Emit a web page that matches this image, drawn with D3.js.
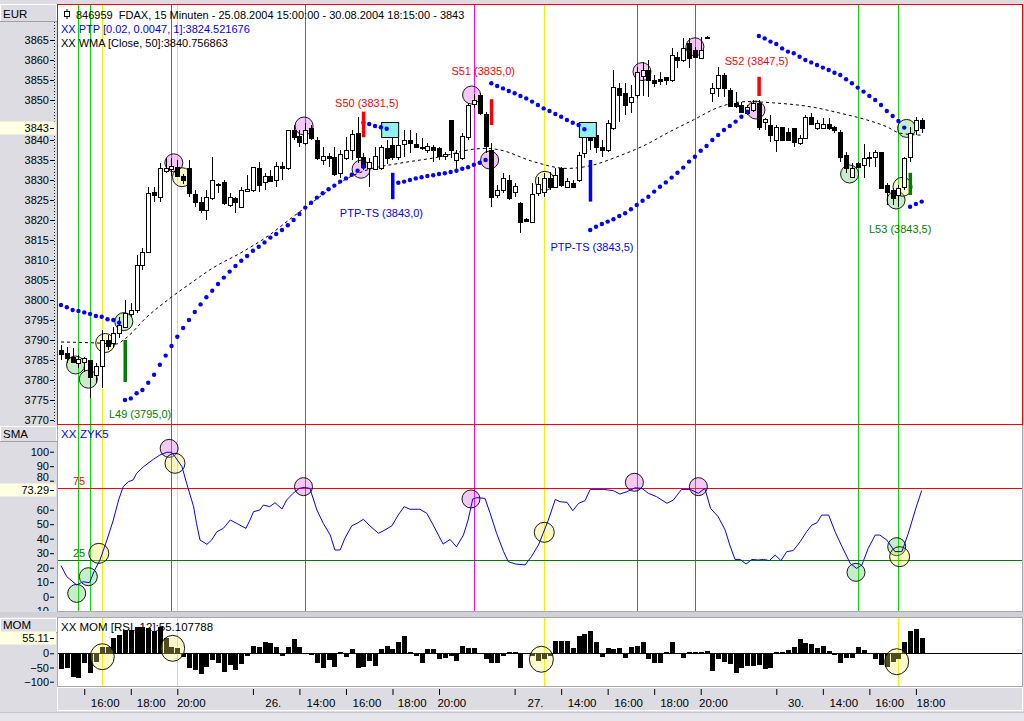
<!DOCTYPE html>
<html><head><meta charset="utf-8">
<script src="https://cdn.jsdelivr.net/npm/d3@7"></script>
<style>
body{margin:0;background:#dcdce2;}
svg{display:block;font-family:"Liberation Sans",Arial,sans-serif;}
text{white-space:pre;}
</style></head><body>
<svg id="c" width="1024" height="721"></svg>
<script>
// ---------------- DATA ----------------
const candleOpen=[3787.5,3786.7,3785.7,3784.3,3784.6,3785.0,3781.3,3783.5,3790.0,3789.2,3791.7,3793.3,3796.5,3797.5,3808.8,3812.1,3827.1,3825.8,3832.3,3832.7,3833.3,3831.0,3832.9,3826.5,3824.6,3822.5,3825.4,3829.0,3829.6,3823.8,3825.6,3823.3,3827.3,3827.5,3833.0,3829.6,3831.0,3830.0,3833.5,3832.9,3842.5,3841.0,3839.2,3842.9,3840.0,3835.0,3836.0,3835.8,3831.7,3835.4,3837.5,3841.7,3835.8,3832.9,3832.7,3833.0,3837.9,3838.8,3835.8,3839.0,3840.0,3839.0,3838.3,3837.5,3838.3,3838.0,3836.0,3845.0,3835.0,3835.4,3840.8,3849.0,3851.3,3846.5,3837.5,3826.3,3827.5,3830.0,3827.0,3824.2,3820.2,3819.6,3826.7,3827.0,3830.4,3828.3,3832.9,3828.3,3829.3,3830.0,3836.7,3842.0,3841.3,3838.3,3837.5,3842.9,3853.0,3851.7,3849.4,3851.3,3856.0,3857.5,3855.0,3855.2,3855.8,3855.0,3860.8,3860.0,3864.2,3862.5,3860.4,3865.8,3851.8,3852.9,3856.3,3852.5,3849.2,3848.8,3846.8,3847.5,3849.2,3844.6,3843.8,3840.0,3843.2,3842.1,3842.9,3839.2,3840.4,3845.8,3842.9,3842.9,3844.0,3843.2,3842.1,3836.3,3830.8,3834.2,3833.8,3835.5,3835.8,3837.1,3828.8,3827.5,3826.3,3828.3,3835.8,3842.5,3845.0];
const candleHigh=[3788.8,3788.3,3787.9,3786.3,3785.7,3785.0,3784.2,3792.5,3791.3,3793.3,3795.8,3800.0,3799.2,3811.3,3812.9,3828.3,3828.3,3834.2,3835.4,3835.5,3835.0,3831.5,3835.0,3827.5,3825.8,3827.5,3835.8,3829.2,3830.0,3826.7,3825.8,3828.3,3831.3,3833.3,3834.5,3831.7,3832.5,3834.6,3834.6,3842.5,3843.8,3842.5,3844.2,3843.8,3840.8,3838.3,3836.7,3838.3,3837.5,3840.8,3842.5,3845.8,3836.7,3835.4,3838.3,3838.8,3840.0,3842.0,3842.0,3842.5,3842.5,3841.7,3840.4,3839.2,3838.8,3838.3,3837.0,3845.0,3837.5,3841.7,3849.2,3851.5,3851.7,3847.0,3839.2,3828.8,3831.7,3831.3,3829.2,3824.6,3820.5,3829.2,3830.8,3831.7,3832.0,3833.0,3833.3,3830.4,3830.0,3837.0,3842.5,3844.0,3842.0,3840.0,3845.0,3857.5,3854.2,3854.2,3853.8,3858.3,3859.5,3860.0,3856.3,3857.0,3855.8,3862.9,3862.0,3865.4,3865.4,3863.3,3865.8,3866.0,3854.2,3858.3,3856.7,3852.9,3852.0,3849.6,3848.8,3850.0,3850.0,3845.5,3846.3,3843.8,3843.3,3842.9,3842.9,3841.3,3846.3,3846.8,3845.0,3845.4,3845.4,3843.5,3842.5,3837.1,3834.2,3834.6,3839.0,3837.1,3837.5,3837.1,3829.2,3827.9,3828.8,3835.8,3843.3,3845.8,3845.4];
const candleLow=[3785.0,3784.2,3784.2,3782.9,3782.1,3775.4,3779.2,3778.0,3787.5,3787.9,3790.4,3793.0,3795.8,3796.7,3807.5,3811.7,3824.6,3824.6,3831.7,3831.0,3830.7,3829.0,3825.8,3823.3,3821.7,3820.0,3825.0,3826.7,3823.8,3823.3,3821.7,3823.3,3827.0,3827.0,3827.0,3827.5,3829.6,3828.3,3830.0,3832.5,3840.0,3838.3,3838.8,3840.0,3835.0,3833.8,3833.3,3831.0,3830.4,3835.0,3835.0,3834.2,3832.5,3828.3,3832.5,3832.5,3834.0,3835.0,3835.0,3835.8,3836.7,3838.3,3837.5,3836.7,3834.6,3835.0,3835.0,3835.4,3832.5,3835.0,3840.0,3848.0,3846.3,3836.7,3823.3,3825.4,3826.7,3825.0,3825.8,3816.7,3819.5,3819.6,3826.0,3825.8,3827.5,3827.9,3828.3,3827.9,3827.9,3829.6,3835.4,3837.5,3836.7,3835.8,3837.0,3842.5,3844.6,3846.3,3846.7,3850.4,3851.0,3850.8,3853.3,3853.8,3853.8,3854.6,3857.9,3859.6,3857.9,3860.4,3860.4,3865.5,3849.6,3850.8,3850.8,3848.3,3847.9,3846.7,3846.3,3847.1,3842.5,3842.5,3839.6,3837.1,3840.0,3840.0,3838.3,3838.8,3840.4,3843.8,3842.5,3842.9,3842.5,3841.7,3834.6,3831.7,3830.4,3832.9,3830.4,3833.3,3833.3,3827.9,3823.8,3823.8,3823.3,3827.5,3834.6,3841.3,3841.7];
const candleClose=[3786.5,3785.4,3784.6,3785.2,3785.4,3780.8,3783.5,3790.0,3788.5,3791.7,3793.8,3796.7,3797.5,3808.8,3812.1,3826.7,3826.3,3832.9,3832.9,3833.5,3831.0,3830.0,3826.7,3824.6,3822.5,3825.8,3830.0,3829.0,3824.2,3825.8,3824.4,3827.5,3827.7,3833.3,3828.8,3831.0,3829.8,3833.5,3832.9,3842.5,3840.8,3839.6,3842.5,3840.4,3835.4,3836.0,3835.4,3831.5,3836.5,3837.5,3841.5,3835.8,3833.3,3834.6,3836.0,3838.3,3835.4,3835.8,3838.8,3840.0,3839.2,3838.3,3838.3,3838.5,3837.5,3836.0,3836.5,3837.5,3836.7,3841.0,3848.8,3850.0,3846.7,3838.5,3825.8,3827.5,3830.4,3825.4,3828.5,3819.6,3819.8,3826.5,3829.0,3830.4,3828.3,3831.3,3828.8,3829.8,3828.3,3836.2,3840.7,3840.0,3838.3,3837.5,3844.2,3853.3,3851.3,3848.8,3850.8,3857.1,3857.5,3855.0,3854.3,3854.8,3855.0,3861.3,3860.0,3862.9,3860.4,3860.8,3862.5,3865.8,3852.9,3856.3,3852.9,3848.5,3848.5,3847.1,3848.2,3849.2,3843.3,3845.2,3841.3,3843.3,3840.0,3840.0,3839.6,3840.4,3845.8,3844.0,3844.2,3844.0,3842.9,3842.5,3835.8,3832.9,3832.9,3833.3,3835.4,3835.8,3837.1,3827.9,3827.1,3825.4,3827.9,3835.4,3841.7,3845.0,3843.0];

// WMA [Close,50] read at bar positions
const wmaBar=[0,7,9.5,11,14.8,18.7,22.7,26.1,30.8,35.4,39.9,44.5,49.2,52.6,58.3,65.2,70.9,73.3,75.5,81.2,87,91.5,95.6,100.8,104.2,108.7,113.3,118,122.4,129.3,134,138.6,142,144.3,148];
const wmaVal=[3789.5,3789.2,3789.0,3790.3,3795.8,3800.4,3804.6,3808,3811.7,3815.8,3820.8,3825.8,3830.4,3832.5,3834.2,3835.8,3837.7,3837.9,3837.5,3834.6,3832.9,3833.75,3835.8,3839,3841.7,3845,3848.3,3849.6,3849.3,3848.2,3846.7,3845,3843.3,3841.7,3841.2];

// PTP stop dots: start bar of each run and its values
const ptpStart=[0,11,52,58,74,91,120,146];
const ptpValues=[
 [3798.75,3798.2,3797.5,3797.25,3796.9,3796.5,3796.0,3795.8,3795.2,3795.0,3794.3],
 [3775.0,3775.4,3776.7,3777.5,3779.3,3781.3,3783.8,3786.1,3788.5,3790.8,3793.0,3795.0,3797.0,3798.9,3800.7,3802.3,3804.0,3805.6,3807.1,3808.5,3809.8,3811.0,3812.3,3813.3,3814.4,3815.6,3816.5,3817.5,3818.7,3820.0,3821.5,3823.1,3824.3,3825.6,3826.7,3827.7,3828.6,3829.6,3830.4,3831.3,3832.3,3833.3],
 [3844.3,3844.0,3843.5,3843.2,3842.8],
 [3829.3,3829.6,3830.0,3830.4,3830.7,3831.0,3831.2,3831.5,3831.7,3832.0,3832.3,3832.8,3833.2,3833.8,3834.3,3835.0],
 [3854.2,3853.5,3852.9,3852.25,3851.7,3851.0,3850.4,3849.6,3848.75,3847.9,3847.25,3846.5,3845.8,3845.0,3844.3,3843.75,3842.7],
 [3817.5,3818.3,3819.0,3819.6,3820.2,3821.0,3821.7,3822.7,3823.75,3824.8,3825.8,3827.1,3828.3,3829.4,3830.6,3831.8,3833.1,3834.6,3835.8,3837.3,3838.5,3840.0,3841.25,3842.5,3843.5,3844.6,3845.8,3847.1],
 [3866.0,3865.4,3864.6,3864.0,3862.9,3862.1,3861.7,3860.8,3860.0,3859.4,3858.75,3858.1,3857.5,3856.8,3856.25,3855.2,3854.2,3853.1,3852.1,3851.0,3850.0,3848.75,3847.25,3846.0,3844.75,3843.1],
 [3823.3,3824.0,3824.6]
];

// trade signals
const sigBar=[11,52,57,74,91,120,146];
const sigKind=["L","S","T","S","T","S","L"];
const sigTop=[3790,3847.1,3831.8,3850.2,3835,3855.8,3831.8];
const sigBottom=[3779.5,3840.7,3825.2,3843.75,3824.6,3851,3826.25];
const sigText=["L49 (3795,0)","S50 (3831,5)","PTP-TS (3843,0)","S51 (3835,0)","PTP-TS (3843,5)","S52 (3847,5)","L53 (3843,5)"];
const sigLabelBar=[13.6,52.6,55.1,72.6,91.3,119.6,144.3];
const sigLabelPrice=[3771.5,3849.25,3821.7,3857.3,3813.3,3859.75,3817.7];
const boxBar=[56.6,90.6];
const boxPrice=[3842.5,3842.5];

// marker circles (bar, value)
const mainGreen=[[2.5,3783.75],[4.7,3780.2],[10.8,3794.6],[135.6,3831.5],[145.4,3842.9],[143.6,3825]];
const mainYellow=[[7.6,3789.25],[20.8,3830.7],[83.2,3829.8],[144.7,3828.3]];
const mainPink=[[19.4,3834.3],[41.8,3843.5],[51.6,3832.7],[70.6,3851.25],[73.7,3835],[99.9,3857.1],[109,3863.3],[119.5,3847.5]];
const smaGreen=[[2.7,2.3],[4.7,13.8],[136.7,16.8],[143.7,34.5]];
const smaYellow=[[6.5,29.9],[19.6,92],[83.1,44.4],[144.2,27.6]];
const smaPink=[[18.6,102.3],[41.7,75.9],[70.5,67.4],[98.6,78.9],[109.6,75.9]];
const momYellow=[[7.1,-12],[19.2,17.6],[82.6,-21],[143.7,-29.6]];

// vertical signal lines (bar index)
const greenLines=[3,5,137,144];
const yellowLines=[7,20,83];
const magentaLines=[19,42,71,99,109];
const momLines=[7,20,83,144];

// ZYK5 (SMA panel)
const smaBar=[0,1.0,2.7,3.8,4.9,5.8,6.7,7.9,9.0,9.9,10.7,11.6,12.4,13.0,14.2,15.9,17.0,18.2,19.0,19.6,20.8,21.6,22.8,23.3,23.9,25.1,25.9,26.8,27.9,29.1,30.2,31.8,32.5,33.1,34.2,34.8,35.9,36.8,38.0,38.8,39.9,41.0,41.8,42.8,44.0,45.1,46.3,47.1,48.0,48.8,50.0,50.9,52.0,53.1,54.6,55.7,56.9,58.0,59.0,60.0,61.7,62.9,64.0,65.7,66.9,68.0,69.2,70.0,70.8,71.5,72.9,73.8,74.9,76.1,76.9,78.1,79.8,80.9,82.1,82.9,83.8,85.0,85.8,87.0,88.0,89.0,90.1,91.0,93.3,95.0,96.1,97.3,98.7,99.9,101.0,102.4,104.2,105.3,106.7,108.2,109.6,110.7,111.7,113.0,114.2,115.0,115.9,116.8,117.8,118.8,119.9,120.8,121.8,122.8,123.8,124.8,125.9,127.1,128.2,129.1,130.0,130.8,132.0,133.1,134.3,135.7,136.8,137.7,138.8,140.0,140.8,142.0,143.4,144.6,145.7,146.9,148.0];
const smaVal=[21.4,13.8,8.1,10.3,9.7,18.4,25.3,39.1,52.9,66.7,75.9,79.3,80.5,85.1,89.7,94.8,97.7,99.6,99.6,96.6,89.7,78.2,62.1,50.6,39.1,36.1,39.1,44.8,47.1,52.9,50.6,47.1,52.9,58.6,59.8,63.2,62.1,64.8,60.5,66.7,71.3,74.7,75.4,74.7,59.8,50.6,42.5,32.2,32.2,40.2,48.9,50.6,53.4,48.9,43.7,46,48.9,56.4,62.1,60.3,60.3,57.5,49.4,36.3,39.5,34.4,42.5,52.9,67.4,68.3,67.8,57.5,43.7,31.1,24.2,22.6,21.9,27.7,35.7,43.7,52.9,67.1,65.5,65.1,59.3,64.4,66.2,74.0,74.0,73.1,70.8,72.4,75.1,74.7,71.3,69.0,64.4,66.7,74.0,74.0,71.3,74.7,60.9,55.2,46.0,35.6,25.7,25.7,22.5,25.7,25.3,25.7,24.9,28.7,24.9,31.1,31.8,37.9,44.8,49.4,51.0,56.3,56.3,44.8,34.5,23.0,19.5,21.8,33.3,42.5,42.5,39.1,31.1,31.1,43.7,59.8,73.3];
const smaLevels=[75,25];

// MOM [RSI,12] per bar
const momVal=[-56,-53,-82,-86,-35,-70,-29,23,23,55,64,82,82,94,94,90,78,94,55,23,17,-12,-53,-59,-74,-47,-24,-35,-67,-41,-59,-39,-8,26,23,41,35,21,-8,23,49,23,-2,-5,-35,-53,-24,-47,3,-12,15,-51,-47,-27,-44,15,26,15,39,
 61,3,-8,-35,15,15,-21,-18,-8,-26,27,17,17,2,-21,-33,-33,-8,3,3,-51,-4,-8,-26,-20,-8,
 43,43,43,17,61,67,78,39,-12,17,15,17,-15,21,27,41,-21,-33,-33,6,41,-4,-18,6,6,6,8,-62,-21,-29,-39,-68,-53,-45,-45,-41,-56,-53,
 3,6,12,23,50,35,32,17,26,8,-6,-35,-18,-18,21,12,-3,-21,-41,-47,-30,-20,40,78,85,55];

// axes (labels hidden behind the value boxes are left out)
const priceTicks=[3770,3775,3780,3785,3790,3795,3800,3805,3810,3815,3820,3825,3830,3835,3840,3850,3855,3860,3865];
const smaTicks=[-10,0,10,20,30,40,50,60,80,90,100];
const momTicks=[-100,-50,0];
const timeTickBar=[4,12,20,33,41,49,57,65,78,86,94,102,110,123,131,139,147];
const timeLabelBar=[7.6,15.5,22.4,36.5,44.7,52.6,60.4,67.2,81.6,89.6,97.6,105.5,112.2,126.4,134.6,142.5,149.6];
const timeLabels=["16:00","18:00","20:00","26.","14:00","16:00","18:00","20:00","27.","14:00","16:00","18:00","20:00","30.","14:00","16:00","18:00"];
const lastPrice=3843, lastSma=73.29, lastMom=55.11;
const titleMain="846959  FDAX, 15 Minuten - 25.08.2004 15:00:00 - 30.08.2004 18:15:00 - 3843";
const legendPtp="XX PTP [0.02, 0.0047, 1]:3824.521676";
const legendWma="XX WMA [Close, 50]:3840.756863";
const legendMom="XX MOM [RSI, 12]:55.107788";

// ---------------- DRAW ----------------
const svg=d3.select("#c");
const W=1024,H=721;
const x=d3.scaleLinear().domain([0,148]).range([61,921.7]);
const yP=d3.scaleLinear().domain([3770,3865]).range([420,40]);
const yS=d3.scaleLinear().domain([0,100]).range([596.7,451.7]);
const yM=d3.scaleLinear().domain([-100,100]).range([681.7,624.9]);
const px=v=>Math.round(x(v))+0.5;

svg.append("rect").attr("width",W).attr("height",H).attr("fill","#dcdce2");
const defs=svg.append("defs");
function clip(id,x0,y0,x1,y1){defs.append("clipPath").attr("id",id).append("rect").attr("x",x0).attr("y",y0).attr("width",x1-x0).attr("height",y1-y0);}
clip("cMain",58,5,1022,424);
clip("cSma",58,425,1022,611);
clip("cMom",58,618,1022,686);
clip("cAxMain",0,22,57,424);
clip("cAxSma",0,442,57,611);
clip("cAxMom",0,633,57,686);

// panels
svg.append("rect").attr("x",57.5).attr("y",424.5).attr("width",965).attr("height",187).attr("fill","#fff").attr("stroke","#a8a8b0");
svg.append("rect").attr("x",57.5).attr("y",617.5).attr("width",965).attr("height",69).attr("fill","#fff").attr("stroke","#a8a8b0");
svg.append("rect").attr("x",57.5).attr("y",4.5).attr("width",965).attr("height",420).attr("fill","#fff");
svg.append("rect").attr("x",0).attr("y",612).attr("width",W).attr("height",5).attr("fill","#d0d0d6");

// header cells
function headCell(y0,h,label){
  svg.append("rect").attr("x",0.5).attr("y",y0+0.5).attr("width",56).attr("height",h).attr("fill","#dcdce2").attr("stroke","#ffffff");
  svg.append("line").attr("x1",0).attr("x2",57).attr("y1",y0+h+0.5).attr("y2",y0+h+0.5).attr("stroke","#a0a0a8");
  svg.append("text").attr("x",3).attr("y",y0+h-3).attr("font-size",11.5).attr("fill","#000").text(label);
}
headCell(4,17,"EUR");
headCell(426,15,"SMA");
headCell(618,14,"MOM");

// vertical signal lines
const gMainV=svg.append("g").attr("clip-path","url(#cMain)");
const gSmaV=svg.append("g").attr("clip-path","url(#cSma)");
function vlines(g,arr,col,y0,y1){g.selectAll(null).data(arr).enter().append("line").attr("x1",d=>px(d)).attr("x2",d=>px(d)).attr("y1",y0).attr("y2",y1).attr("stroke",col).attr("stroke-width",1);}
[[gMainV,5,424],[gSmaV,425,611]].forEach(([g,a,b])=>{
  vlines(g,greenLines,"#00e000",a,b);
  vlines(g,yellowLines,"#f0f000",a,b);
  vlines(g,magentaLines,"#ff00ff",a,b);
});
const gMomV=svg.append("g").attr("clip-path","url(#cMom)");
vlines(gMomV,momLines,"#f0f000",618,686);

// ---------- main panel content ----------
const gMain=svg.append("g").attr("clip-path","url(#cMain)");
function circles(g,arr,sx,sy,fill,r){
  g.selectAll(null).data(arr).enter().append("circle").attr("cx",d=>sx(d[0])).attr("cy",d=>sy(d[1])).attr("r",r)
   .attr("fill",fill).attr("fill-opacity",0.32).attr("stroke","#000").attr("stroke-width",0.9);
}
circles(gMain,mainPink,x,yP,"#e050e0",9);
circles(gMain,mainGreen,x,yP,"#50c850",9);
circles(gMain,mainYellow,x,yP,"#e8e840",9.5);

const wmaPts=wmaBar.map((b,i)=>[b,wmaVal[i]]);
gMain.append("path").datum(wmaPts).attr("fill","none").attr("stroke","#000").attr("stroke-width",1).attr("stroke-dasharray","3,3")
  .attr("d",d3.line().x(d=>x(d[0])).y(d=>yP(d[1])).curve(d3.curveMonotoneX));

const idx=d3.range(candleOpen.length);
const gC=gMain.append("g").attr("shape-rendering","crispEdges");
gC.selectAll("line.w").data(idx).enter().append("line").attr("class","w")
  .attr("x1",i=>px(i)).attr("x2",i=>px(i)).attr("y1",i=>yP(candleHigh[i])).attr("y2",i=>yP(candleLow[i])).attr("stroke","#000");
gC.selectAll("rect.b").data(idx).enter().append("rect").attr("class","b")
  .attr("x",i=>Math.round(x(i))-1.5).attr("width",4)
  .attr("y",i=>Math.round(yP(Math.max(candleOpen[i],candleClose[i])))+0.5)
  .attr("height",i=>Math.max(0.5,Math.round(yP(Math.min(candleOpen[i],candleClose[i])))-Math.round(yP(Math.max(candleOpen[i],candleClose[i])))))
  .attr("fill",i=>candleClose[i]>=candleOpen[i]?"#fff":"#000").attr("stroke","#000");

gMain.selectAll(null).data(boxBar).enter().append("rect")
  .attr("x",(d)=>x(d)-8.5).attr("y",(d,i)=>yP(boxPrice[i])-7.5).attr("width",17).attr("height",15)
  .attr("fill","#8ef2f2").attr("stroke","#000").attr("stroke-width",1);

const ptpPts=[];
ptpStart.forEach((s,k)=>ptpValues[k].forEach((v,j)=>ptpPts.push([s+j,v])));
gMain.selectAll(null).data(ptpPts).enter().append("circle").attr("cx",d=>x(d[0])).attr("cy",d=>yP(d[1])).attr("r",2.2).attr("fill","#0000ff");

const sigCol={L:"#008000",S:"#ff0000",T:"#0000ff"};
gMain.selectAll(null).data(sigBar).enter().append("rect")
  .attr("x",d=>x(d)-1.5).attr("width",3.5)
  .attr("y",(d,i)=>yP(sigTop[i])).attr("height",(d,i)=>yP(sigBottom[i])-yP(sigTop[i]))
  .attr("fill",(d,i)=>sigCol[sigKind[i]]);
gMain.selectAll(null).data(sigText).enter().append("text")
  .attr("x",(d,i)=>x(sigLabelBar[i])).attr("y",(d,i)=>yP(sigLabelPrice[i])+4)
  .attr("text-anchor","middle").attr("font-size",11).attr("fill",(d,i)=>sigCol[sigKind[i]]).text(d=>d);

const icon=svg.append("g").attr("stroke","#000").attr("fill","none");
icon.append("rect").attr("x",64.5).attr("y",11.5).attr("width",5).attr("height",5);
icon.append("line").attr("x1",67).attr("x2",67).attr("y1",9).attr("y2",11.5);
icon.append("line").attr("x1",67).attr("x2",67).attr("y1",16.5).attr("y2",19);
svg.append("text").attr("x",76).attr("y",19).attr("font-size",11).attr("fill","#000").text(titleMain);
svg.append("text").attr("x",61).attr("y",33).attr("font-size",11).attr("fill","#0000ff").text(legendPtp);
svg.append("text").attr("x",61).attr("y",47).attr("font-size",11).attr("fill","#000").text(legendWma);

// ---------- SMA panel ----------
const gS=svg.append("g").attr("clip-path","url(#cSma)");
gS.selectAll(null).data(smaLevels).enter().append("line").attr("x1",58).attr("x2",1022)
  .attr("y1",d=>Math.round(yS(d))+0.5).attr("y2",d=>Math.round(yS(d))+0.5).attr("stroke",(d,i)=>i===0?"#ff0000":"#008000");
gS.selectAll(null).data(smaLevels).enter().append("text").attr("x",73).attr("y",d=>yS(d)-3).attr("font-size",11)
  .attr("fill",(d,i)=>i===0?"#ff0000":"#008000").text(d=>d);
circles(gS,smaPink,x,yS,"#e050e0",9);
circles(gS,smaGreen,x,yS,"#50c850",9);
circles(gS,smaYellow,x,yS,"#e8e840",10);
gS.append("path").datum(smaBar.map((b,i)=>[b,smaVal[i]])).attr("fill","none").attr("stroke","#0000ff").attr("stroke-width",1)
  .attr("d",d3.line().x(d=>x(d[0])).y(d=>yS(d[1])));
svg.append("text").attr("x",61).attr("y",438).attr("font-size",11.5).attr("fill","#0000ff").text("XX");
svg.append("text").attr("x",80).attr("y",438).attr("font-size",11.5).attr("fill","#0000ff").text("ZYK5");

// ---------- MOM panel ----------
const gM=svg.append("g").attr("clip-path","url(#cMom)");
gM.append("line").attr("x1",58).attr("x2",1022).attr("y1",Math.round(yM(0))+0.5).attr("y2",Math.round(yM(0))+0.5).attr("stroke","#000");
gM.append("g").attr("shape-rendering","crispEdges").selectAll("rect").data(momVal).enter().append("rect")
  .attr("x",(d,i)=>Math.round(x(i))-2).attr("width",4.5)
  .attr("y",d=>Math.min(yM(d),yM(0))).attr("height",d=>Math.abs(yM(d)-yM(0))).attr("fill","#000");
gM.selectAll(null).data(momYellow).enter().append("ellipse").attr("cx",d=>x(d[0])).attr("cy",d=>yM(d[1])).attr("rx",12).attr("ry",13)
  .attr("fill","#f0f060").attr("fill-opacity",0.32).attr("stroke","#000").attr("stroke-width",0.9);
svg.append("text").attr("x",61).attr("y",631).attr("font-size",11.5).attr("fill","#000").text(legendMom);

svg.append("rect").attr("x",57.5).attr("y",4.5).attr("width",965).attr("height",420).attr("fill","none").attr("stroke","#ff0000");

// ---------- value axes ----------
function styleAxis(g){
  g.select(".domain").remove();
  g.selectAll("text").attr("font-size",11).attr("fill","#000").attr("font-family",'"Liberation Sans",Arial,sans-serif');
  g.selectAll("line").attr("stroke","#000");
}
const axP=svg.append("g").attr("clip-path","url(#cAxMain)").append("g").attr("transform","translate(54,0)")
  .call(d3.axisLeft(yP).tickValues(priceTicks).tickFormat(d3.format("d")).tickSize(4).tickPadding(1));
styleAxis(axP);
svg.append("line").attr("x1",54.5).attr("x2",54.5).attr("y1",22).attr("y2",424).attr("stroke","#000").attr("stroke-dasharray","1,2");
const axS=svg.append("g").attr("clip-path","url(#cAxSma)").append("g").attr("transform","translate(54,0)")
  .call(d3.axisLeft(yS).tickValues(smaTicks).tickFormat(d3.format("d")).tickSize(4).tickPadding(1));
styleAxis(axS);
axS.selectAll(".tick").filter(d=>d===80).select("text").attr("dy","-0.05em");
const axM=svg.append("g").attr("clip-path","url(#cAxMom)").append("g").attr("transform","translate(54,0)")
  .call(d3.axisLeft(yM).tickValues(momTicks).tickFormat(d3.format("d")).tickSize(4).tickPadding(1));
styleAxis(axM);

function valBox(yc,label){
  svg.append("rect").attr("x",0).attr("y",Math.round(yc)-6.5).attr("width",56).attr("height",13).attr("fill","#ffffe1");
  svg.append("line").attr("x1",50).attr("x2",54).attr("y1",Math.round(yc)+0.5).attr("y2",Math.round(yc)+0.5).attr("stroke","#000");
  svg.append("text").attr("x",49).attr("y",yc+4).attr("text-anchor","end").attr("font-size",11).attr("fill","#000").text(label);
}
valBox(yP(lastPrice),d3.format("d")(lastPrice));
valBox(yS(lastSma),d3.format(".2f")(lastSma));
valBox(yM(lastMom),d3.format(".2f")(lastMom));

// ---------- time axis ----------
svg.append("rect").attr("x",0).attr("y",687).attr("width",W).attr("height",25).attr("fill","#dcdce2");
svg.append("line").attr("x1",57).attr("x2",1023).attr("y1",687.5).attr("y2",687.5).attr("stroke","#a8a8b0");
svg.append("rect").attr("x",57.5).attr("y",687.5).attr("width",965).attr("height",23).attr("fill","none").attr("stroke","#ffffff");
const axT=svg.append("g").attr("transform","translate(0,689)")
  .call(d3.axisBottom(x).tickValues(timeTickBar).tickFormat("").tickSize(6));
axT.select(".domain").remove();
axT.selectAll("line").attr("stroke","#000");
svg.selectAll(null).data(timeLabels).enter().append("text")
  .attr("x",(d,i)=>x(timeLabelBar[i])).attr("y",707).attr("text-anchor","middle").attr("font-size",11.5).attr("fill","#000").text(d=>d);
svg.append("rect").attr("x",0).attr("y",712).attr("width",W).attr("height",9).attr("fill","#e6e6ea");
svg.append("line").attr("x1",0).attr("x2",W).attr("y1",712.5).attr("y2",712.5).attr("stroke","#c4c4cc");
</script>
</body></html>
